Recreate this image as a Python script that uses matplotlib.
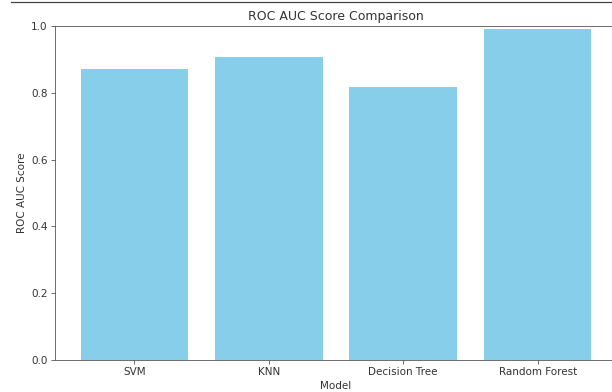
import matplotlib
matplotlib.use('Agg')
import matplotlib.pyplot as plt
from matplotlib.lines import Line2D

models = ['SVM', 'KNN', 'Decision Tree', 'Random Forest']
roc_auc = [0.871, 0.906, 0.817, 0.990]

plt.rcParams['text.color'] = '#333333'
plt.rcParams['axes.labelcolor'] = '#333333'
plt.rcParams['xtick.color'] = '#555555'
plt.rcParams['ytick.color'] = '#555555'
plt.rcParams['xtick.labelcolor'] = '#333333'
plt.rcParams['ytick.labelcolor'] = '#333333'
plt.rcParams['axes.edgecolor'] = '#555555'

fig = plt.figure(figsize=(612 / 75, 392 / 75), dpi=75)
ax = fig.add_axes([55 / 612, 32 / 392, 562 / 612, 334 / 392])

ax.bar(models, roc_auc, color='skyblue')
ax.set_ylim(0, 1)
ax.set_title('ROC AUC Score Comparison')
ax.set_xlabel('Model')
ax.set_ylabel('ROC AUC Score')

# border line at top of the screenshot
fig.add_artist(Line2D([11 / 612, 1], [1 - 1.5 / 392, 1 - 1.5 / 392],
                      color='#444444', lw=1.2, transform=fig.transFigure))

fig.savefig('out.png', dpi=75)
